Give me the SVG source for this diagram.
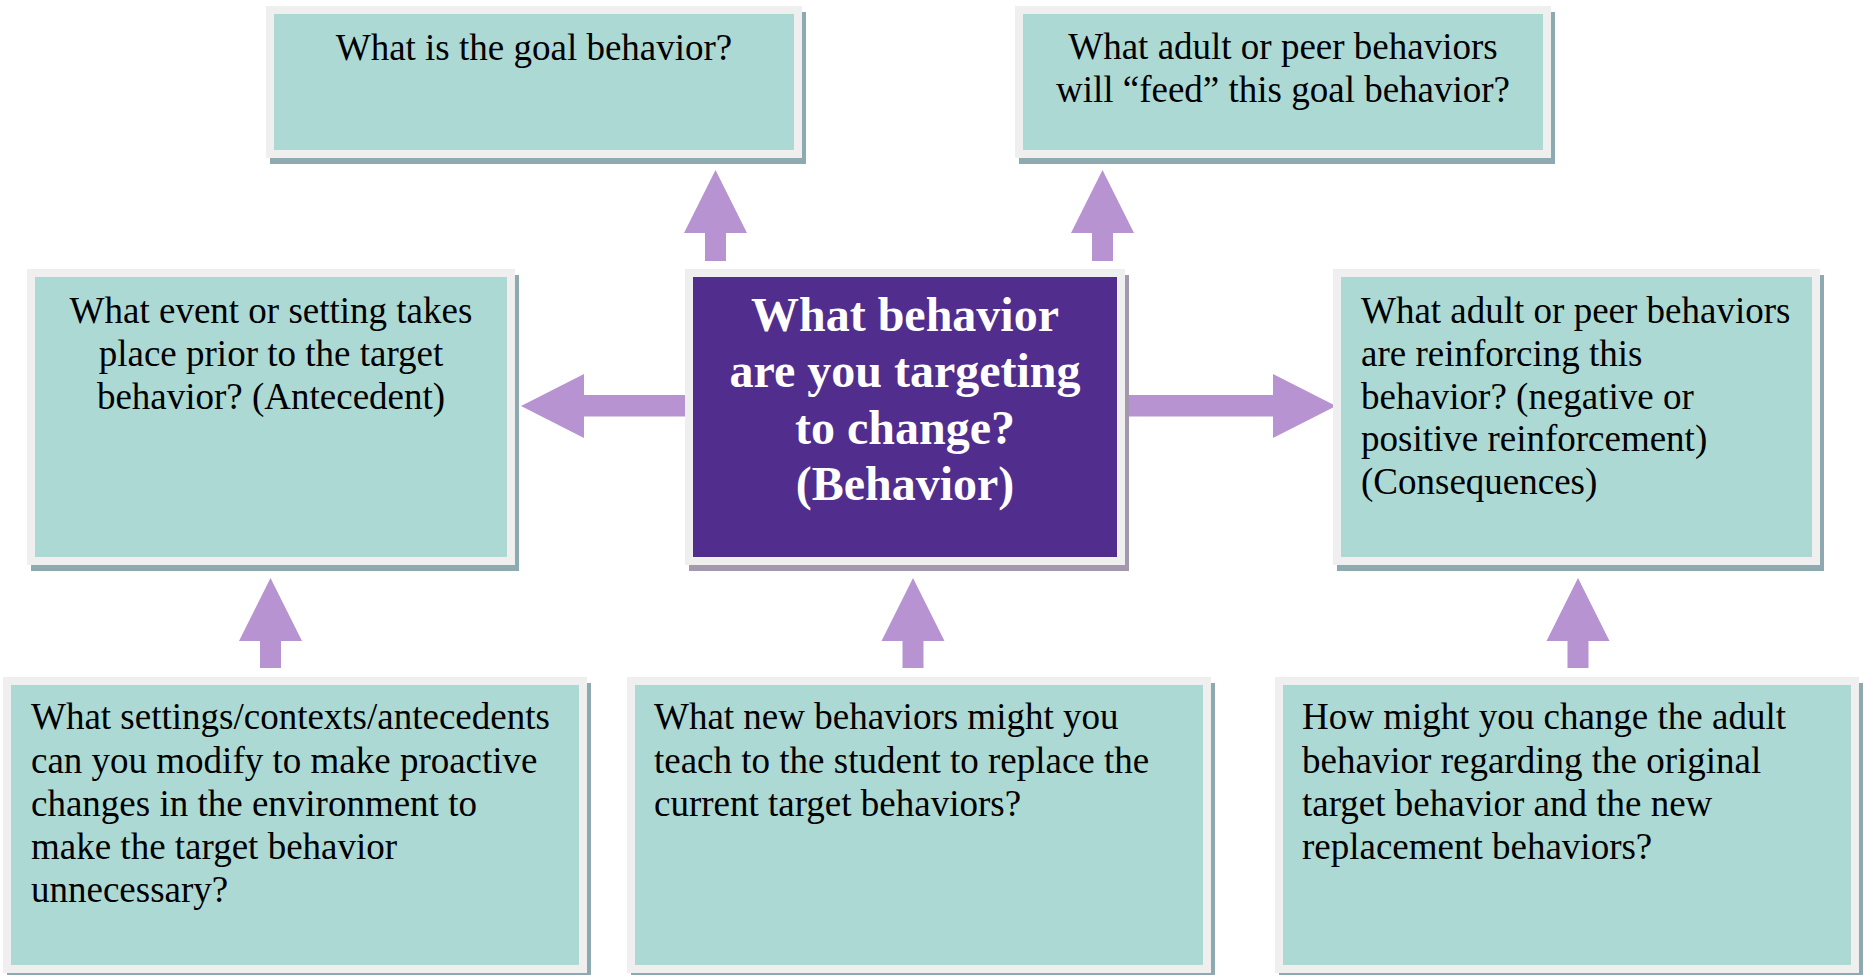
<svg xmlns="http://www.w3.org/2000/svg" width="1864" height="975" viewBox="0 0 1864 975">
<style>
.sh{fill:#8DAAB1}
.shp{fill:#A498AE}
.fr{fill:#EFEFEF}
.tl{fill:#ADD9D4}
.pu{fill:#512D8D}
.t{font-family:"Liberation Serif","Times New Roman",serif;font-size:37px;fill:#000}
.c{text-anchor:middle}
.b{font-family:"Liberation Serif","Times New Roman",serif;font-size:48px;font-weight:bold;fill:#fff;text-anchor:middle}
.ar{fill:#B893D2}
</style>
<rect width="1864" height="975" fill="#fff"/>
<g id="connectors">
<polygon class="ar" points="715.5,170 747,233 726,233 726,261 705,261 705,233 684,233"/>
<polygon class="ar" points="1102.5,170 1134,233 1113,233 1113,261 1092,261 1092,233 1071,233"/>
<polygon class="ar" points="521,406 584,374 584,395 685,395 685,416.5 584,416.5 584,438"/>
<polygon class="ar" points="1336,406 1273,374 1273,395 1126,395 1126,416.5 1273,416.5 1273,438"/>
<polygon class="ar" points="270.5,578 302,641 281,641 281,668 260,668 260,641 239,641"/>
<polygon class="ar" points="913,578 944.5,641 923.5,641 923.5,668 902.5,668 902.5,641 881.5,641"/>
<polygon class="ar" points="1578,578 1609.5,641 1588.5,641 1588.5,668 1567.5,668 1567.5,641 1546.5,641"/>
</g>
<g id="goal">
<rect class="sh" x="270" y="12" width="536" height="152"/>
<rect class="fr" x="266" y="6" width="536" height="152"/>
<rect class="tl" x="274" y="14" width="520" height="136"/>
<text class="t c" x="534" y="59.5">What is the goal behavior?</text>
</g>
<g id="feed">
<rect class="sh" x="1019" y="12" width="536" height="152"/>
<rect class="fr" x="1015" y="6" width="536" height="152"/>
<rect class="tl" x="1023" y="14" width="520" height="136"/>
<text class="t c" x="1283" y="58.5">What adult or peer behaviors</text>
<text class="t c" x="1283" y="102">will “feed” this goal behavior?</text>
</g>
<g id="antecedent">
<rect class="sh" x="31" y="275" width="488" height="296"/>
<rect class="fr" x="27" y="269" width="488" height="296"/>
<rect class="tl" x="35" y="277" width="472" height="280"/>
<text class="t c" x="271" y="322.5">What event or setting takes</text>
<text class="t c" x="271" y="365.5">place prior to the target</text>
<text class="t c" x="271" y="408.5">behavior? (Antecedent)</text>
</g>
<g id="behavior">
<rect class="shp" x="689" y="275" width="440" height="296"/>
<rect class="fr" x="685" y="269" width="440" height="296"/>
<rect class="pu" x="693" y="277" width="424" height="280"/>
<text class="b" x="905" y="331">What behavior</text>
<text class="b" x="905" y="387">are you targeting</text>
<text class="b" x="905" y="443.5">to change?</text>
<text class="b" x="905" y="499.5">(Behavior)</text>
</g>
<g id="consequences">
<rect class="sh" x="1337" y="275" width="487" height="296"/>
<rect class="fr" x="1333" y="269" width="487" height="296"/>
<rect class="tl" x="1341" y="277" width="471" height="280"/>
<text class="t" x="1361" y="322.5">What adult or peer behaviors</text>
<text class="t" x="1361" y="365.5">are reinforcing this</text>
<text class="t" x="1361" y="408.5">behavior? (negative or</text>
<text class="t" x="1361" y="451">positive reinforcement)</text>
<text class="t" x="1361" y="493.5">(Consequences)</text>
</g>
<g id="modify">
<rect class="sh" x="7" y="683" width="584" height="296"/>
<rect class="fr" x="3" y="677" width="584" height="296"/>
<rect class="tl" x="11" y="685" width="568" height="280"/>
<text class="t" x="31" y="729">What settings/contexts/antecedents</text>
<text class="t" x="31" y="772.5">can you modify to make proactive</text>
<text class="t" x="31" y="816">changes in the environment to</text>
<text class="t" x="31" y="859">make the target behavior</text>
<text class="t" x="31" y="902">unnecessary?</text>
</g>
<g id="teach">
<rect class="sh" x="631" y="683" width="584" height="296"/>
<rect class="fr" x="627" y="677" width="584" height="296"/>
<rect class="tl" x="635" y="685" width="568" height="280"/>
<text class="t" x="654" y="729">What new behaviors might you</text>
<text class="t" x="654" y="772.5">teach to the student to replace the</text>
<text class="t" x="654" y="816">current target behaviors?</text>
</g>
<g id="adult">
<rect class="sh" x="1279" y="683" width="584" height="296"/>
<rect class="fr" x="1275" y="677" width="584" height="296"/>
<rect class="tl" x="1283" y="685" width="568" height="280"/>
<text class="t" x="1302" y="729">How might you change the adult</text>
<text class="t" x="1302" y="772.5">behavior regarding the original</text>
<text class="t" x="1302" y="816">target behavior and the new</text>
<text class="t" x="1302" y="859">replacement behaviors?</text>
</g>
</svg>
